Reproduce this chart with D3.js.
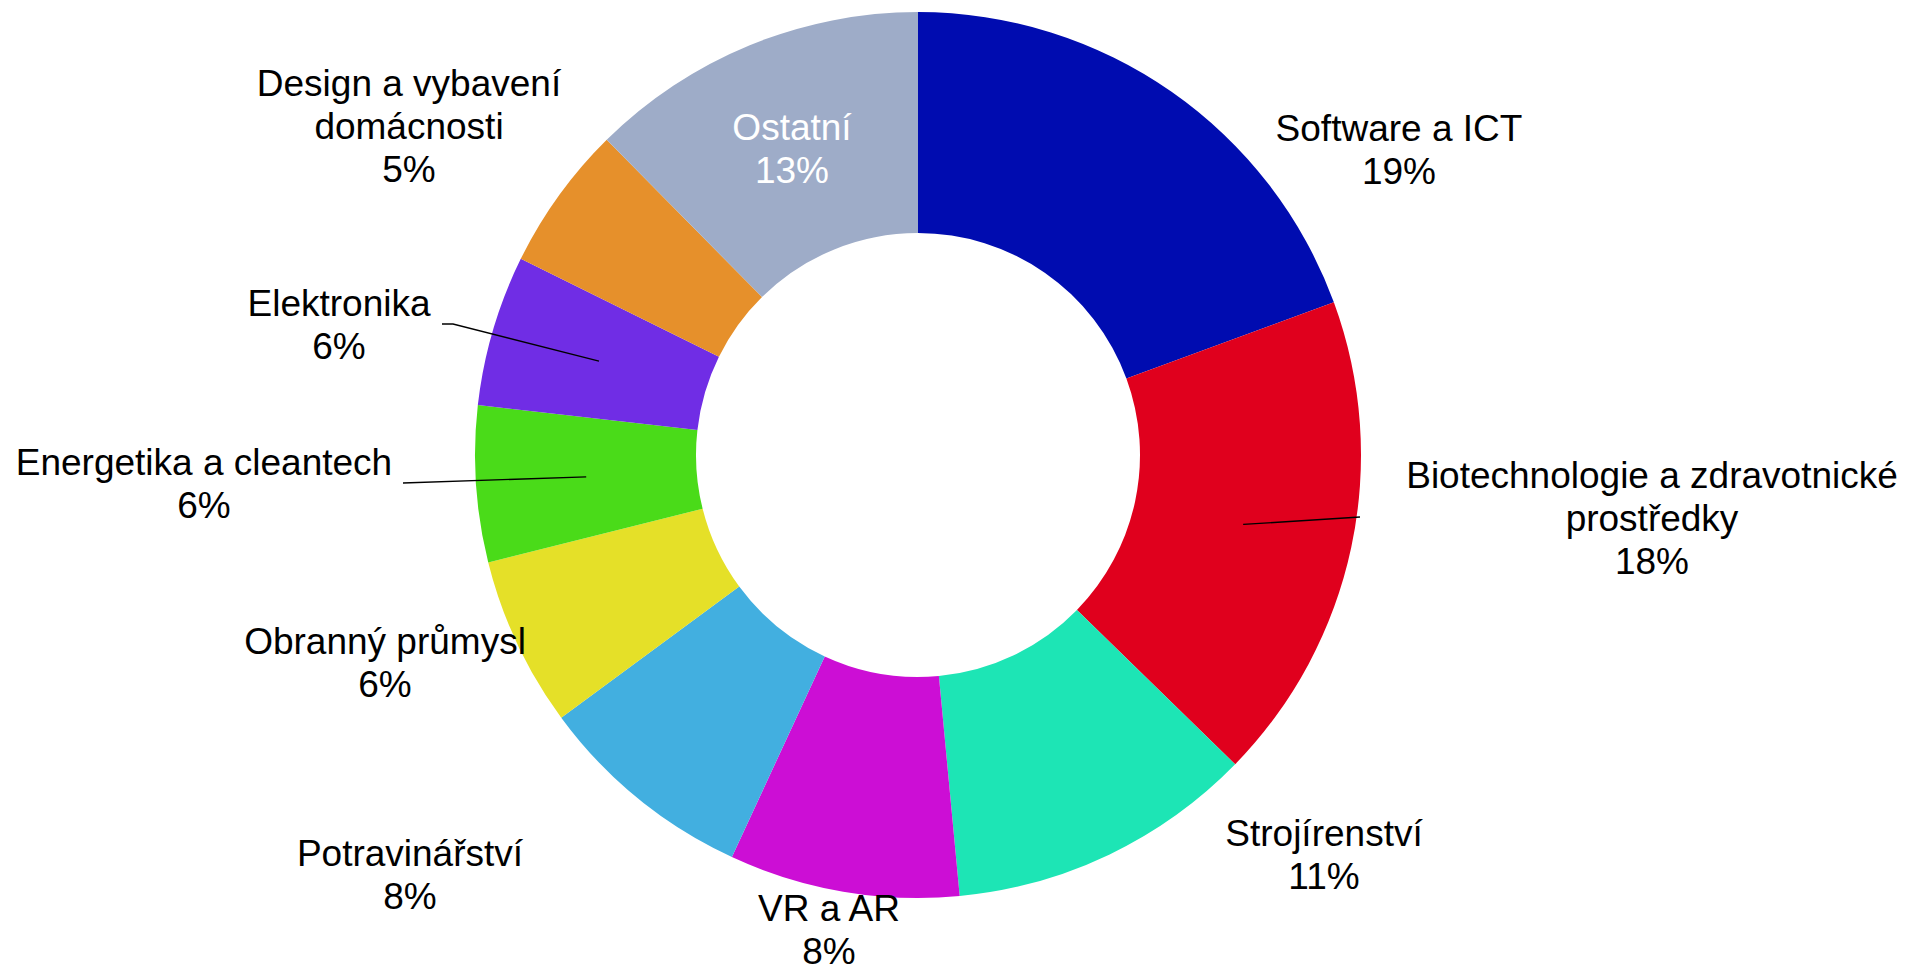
<!DOCTYPE html>
<html>
<head>
<meta charset="utf-8">
<script src="https://cdn.jsdelivr.net/npm/d3@7"></script>
<style>
  body { margin: 0; background: #fff; }
  text { font-family: Arial, "Liberation Sans", sans-serif; }
</style>
</head>
<body>
<div id="chart"></div>
<script>
let width = 1908
let height = 965

// data
let categories = ["Software a ICT", "Biotechnologie a zdravotnické\nprostředky", "Strojírenství", "VR a AR",
  "Potravinářství", "Obranný průmysl", "Energetika a cleantech", "Elektronika",
  "Design a vybavení\ndomácnosti", "Ostatní"]
let values = [19.4, 17.9, 11.2, 8.4, 8.0, 6.2, 5.7, 5.5, 5.3, 12.4]
let percentLabels = ["19%", "18%", "11%", "8%", "8%", "6%", "6%", "6%", "5%", "13%"]
let colors = ["#000cb0", "#e0001d", "#1de5b5", "#cc0ed5", "#42afe0", "#e5e028", "#4adb19", "#702de5", "#e6902b", "#9eacc8"]

// label layout (center of first line) and leader line ends
let labelPos = [[1399, 128], [1652, 475], [1324, 833], [829, 908], [410, 853],
  [385, 641], [204, 462], [339, 303], [409, 83], [792, 127]]
let leaders = { 1: [[1360, 517]], 6: [[403, 483]], 7: [[453, 324], [442, 324]] }

let cx = 918, cy = 455
let outerR = 443, innerR = 222
let lineH = 43

let svg = d3.select("#chart").append("svg")
  .attr("width", width)
  .attr("height", height)

let pie = d3.pie().sort(null).value(d => d)
let arcs = pie(values)
let arc = d3.arc().innerRadius(innerR).outerRadius(outerR)

let g = svg.append("g").attr("transform", "translate(" + cx + "," + cy + ")")

g.selectAll(".slice")
  .data(arcs)
  .enter()
  .append("path")
  .attr("class", "slice")
  .attr("d", arc)
  .attr("fill", (d, i) => colors[i])

// leader lines from the slice centroid out to the label
arcs.forEach((d, i) => {
  if (!leaders[i]) return
  let c = arc.centroid(d)
  let pts = [[c[0] + cx, c[1] + cy]].concat(leaders[i])
  svg.append("path")
    .attr("d", d3.line()(pts))
    .attr("fill", "none")
    .attr("stroke", "#000")
    .attr("stroke-width", 1.3)
})

// labels
arcs.forEach((d, i) => {
  let lines = categories[i].split("\n")
  lines.push(percentLabels[i])
  let t = svg.append("text")
    .attr("text-anchor", "middle")
    .attr("font-size", 37)
    .attr("fill", i == 9 ? "#fff" : "#000")
  lines.forEach((l, k) => {
    t.append("tspan")
      .attr("x", labelPos[i][0])
      .attr("y", labelPos[i][1] + 13 + k * lineH)
      .text(l)
  })
})
</script>
</body>
</html>
